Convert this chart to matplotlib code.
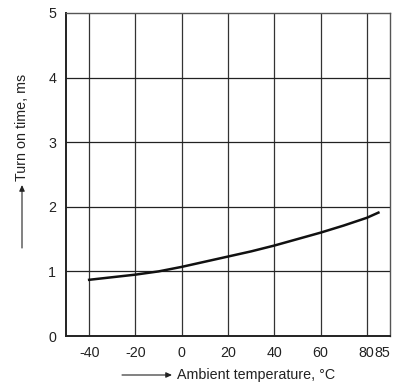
import matplotlib
matplotlib.use("Agg")
import matplotlib.pyplot as plt
import matplotlib.transforms as mtransforms
import numpy as np

temps = [-40, -30, -20, -10, 0, 10, 20, 30, 40, 50, 60, 70, 80, 85]
times = [0.87, 0.91, 0.95, 1.00, 1.07, 1.15, 1.23, 1.31, 1.40, 1.50, 1.60, 1.71, 1.83, 1.91]
xticks = [-40, -20, 0, 20, 40, 60, 80]
yticks = [0, 1, 2, 3, 4, 5]

plt.rcParams['font.family'] = ['Liberation Sans', 'DejaVu Sans']

W, H = 396, 383
fig = plt.figure(figsize=(W/100, H/100), dpi=100)
ax = fig.add_axes([66/W, 1-336/H, (390-66)/W, (336-13)/H])
ax.set_xlim(-50, 90)
ax.set_ylim(0, 5)
ax.set_xticks(xticks + [85])
ax.set_xticklabels([str(t) for t in xticks] + ['85'])
ax.set_yticks(yticks)
ax.tick_params(length=0, labelsize=10.3, colors='#222222')
ax.tick_params(axis='x', pad=7)
ax.tick_params(axis='y', pad=7)
fig.canvas.draw()
xl = ax.get_xticklabels()
xl[-1].set_transform(xl[-1].get_transform() + mtransforms.ScaledTranslation(4/100, 0, fig.dpi_scale_trans))
xl[-2].set_transform(xl[-2].get_transform() + mtransforms.ScaledTranslation(-0.5/100, 0, fig.dpi_scale_trans))
for x in xticks:
    ax.axvline(x, color='#333333', lw=0.9, zorder=1)
for y in yticks[1:-1]:
    ax.axhline(y, color='#222222', lw=0.9, zorder=1)
for s in ['left', 'bottom']:
    ax.spines[s].set_linewidth(1.4)
    ax.spines[s].set_color('#222222')
for s in ['top', 'right']:
    ax.spines[s].set_linewidth(1.0)
    ax.spines[s].set_color('#555555')
ax.plot(temps, times, color='#111111', lw=1.8, zorder=3)

# axis labels with arrows
fig.text(22/W, 1-127/H, 'Turn on time, ms', rotation=90, ha='center', va='center', fontsize=10.3, color='#222222')
fig.add_artist(matplotlib.patches.FancyArrowPatch((22/W, 1-248/H), (22/W, 1-185/H), transform=fig.transFigure,
               arrowstyle='-|>,head_length=3.5,head_width=1.6', color='#222222', lw=0.8, shrinkA=0, shrinkB=0))
fig.text(177/W, 1-375/H, 'Ambient temperature, °C', ha='left', va='center', fontsize=10.3, color='#222222')
fig.add_artist(matplotlib.patches.FancyArrowPatch((122/W, 1-375/H), (172/W, 1-375/H), transform=fig.transFigure,
               arrowstyle='-|>,head_length=3.5,head_width=1.6', color='#222222', lw=0.8, shrinkA=0, shrinkB=0))

fig.savefig('out.png', dpi=100)
